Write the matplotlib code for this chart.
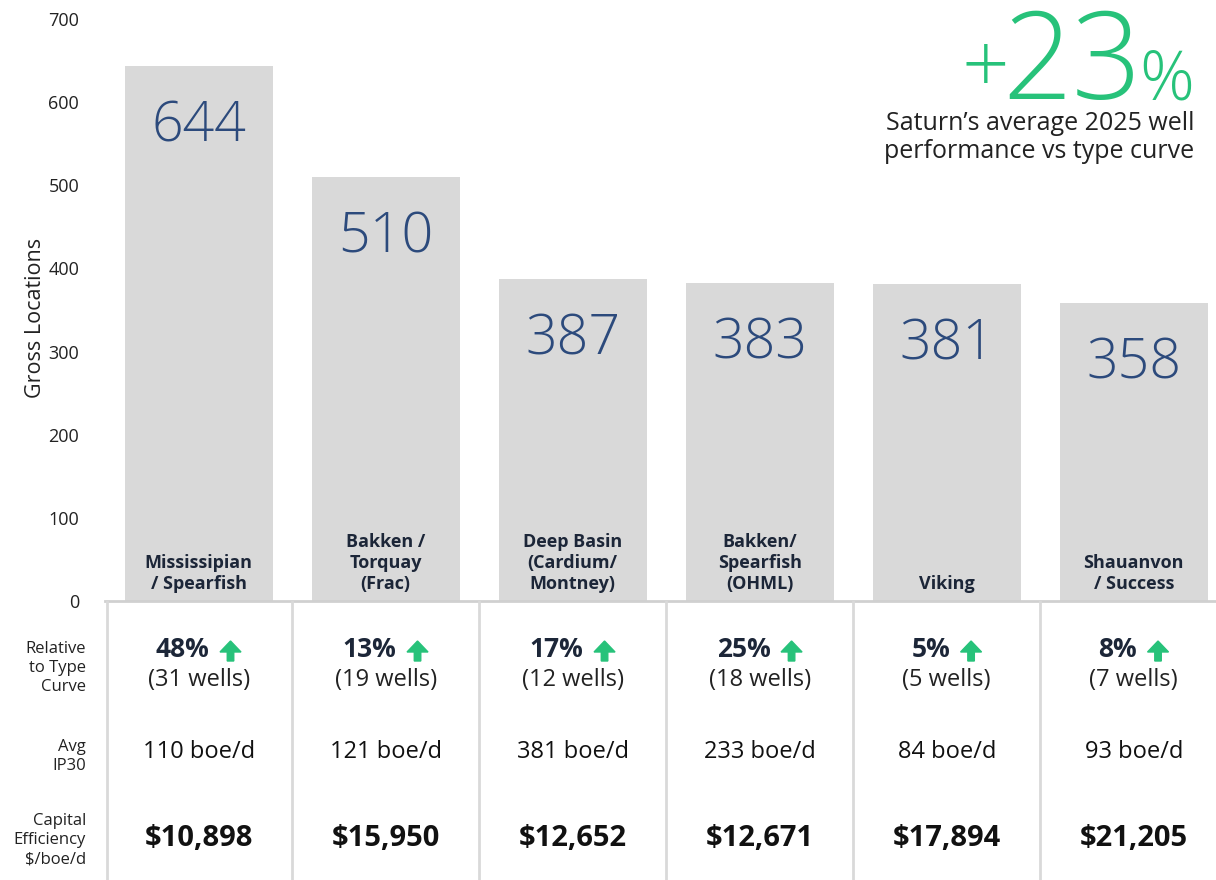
import matplotlib.pyplot as plt
import matplotlib.transforms as mtransforms
from matplotlib.patches import FancyArrow

plt.rcParams['font.family'] = ['Open Sans', 'DejaVu Sans']

# data
categories = ['Mississipian\n/ Spearfish', 'Bakken /\nTorquay\n(Frac)', 'Deep Basin\n(Cardium/\nMontney)',
              'Bakken/\nSpearfish\n(OHML)', 'Viking', 'Shauanvon\n/ Success']
locations = [644, 510, 387, 383, 381, 358]
rel_pct = [48, 13, 17, 25, 5, 8]
wells = [31, 19, 12, 18, 5, 7]
ip30 = [110, 121, 381, 233, 84, 93]
cap_eff = [10898, 15950, 12652, 12671, 17894, 21205]
yticks = [0, 100, 200, 300, 400, 500, 600, 700]

navy = '#1c2638'
blue = '#2c4a7c'
green = '#27c27a'
grey = '#d9d9d9'
W, H = 1216, 880

fig = plt.figure(figsize=(12.16, 8.8), dpi=100)
ax = fig.add_axes([107 / W, 1 - 601 / H, 1 - 107 / W, (601 - 19) / H])
x = list(range(len(categories)))
ax.bar(x, locations, width=0.79, color=grey, zorder=1)
ax.set_xlim(-0.49, 5.44)
ax.set_ylim(0, 700)
ax.set_yticks(yticks)
ax.tick_params(axis='y', length=0, pad=20, labelsize=13, labelcolor='#222222')
ax.set_xticks([])
for s in ax.spines.values():
    s.set_visible(False)
ax.set_ylabel('Gross Locations', fontsize=15.5, color='#222222')
ax.yaxis.set_label_coords(-(107 - 46) / (W - 107), (601 - 318) / 582)

for i, v in enumerate(locations):
    ax.annotate(str(v), (i, v), xytext=(0, -44), textcoords='offset points',
                ha='center', va='center', fontsize=40, color=blue, fontweight='light')
    ax.text(i, 10, categories[i], ha='center', va='bottom', fontsize=13, fontweight='bold',
            color=navy, linespacing=1.2)

# table below the bars
tr = mtransforms.blended_transform_factory(ax.transData, fig.transFigure)
fig.add_artist(plt.Line2D([105 / W, 1], [1 - 601 / H] * 2, color='#d0d0d0', lw=2))
for d in [-0.49, 0.5, 1.5, 2.5, 3.5, 4.5]:
    fig.add_artist(plt.Line2D([d, d], [0, 1 - 602 / H], color=grey, lw=2, transform=tr))

fig.canvas.draw()
r = fig.canvas.get_renderer()
for i in x:
    t = fig.text(i, 1 - 649 / H, f'{rel_pct[i]}%', ha='center', va='center', fontsize=19,
                 fontweight='bold', color=navy, transform=tr)
    tw = t.get_window_extent(r).width
    aw, gap = 22, 10
    px_c = ax.transData.transform((i, 0))[0]
    t.set_x(ax.transData.inverted().transform((px_c - (gap + aw) / 2, 0))[0])
    ac = px_c - (gap + aw) / 2 + tw / 2 + gap + aw / 2
    fig.add_artist(FancyArrow(ac / 100, (H - 661) / 100, 0, 0.2, width=0.065, head_width=0.21,
                              head_length=0.11, length_includes_head=True, color=green,
                              transform=fig.dpi_scale_trans))
    fig.text(i, 1 - 680 / H, f'({wells[i]} wells)', ha='center', va='center', fontsize=17,
             color='#222222', transform=tr)
    fig.text(i, 1 - 752 / H, f'{ip30[i]} boe/d', ha='center', va='center', fontsize=17,
             color='#111111', transform=tr)
    fig.text(i, 1 - 838 / H, f'${cap_eff[i]:,}', ha='center', va='center', fontsize=21,
             fontweight='bold', color='#111111', transform=tr)

lab = dict(ha='right', va='center', fontsize=12, color='#222222', linespacing=1.25)
fig.text(86 / W, 1 - 668 / H, 'Relative\nto Type\nCurve', **lab)
fig.text(86 / W, 1 - 756 / H, 'Avg\nIP30', **lab)
fig.text(86 / W, 1 - 840 / H, 'Capital\nEfficiency\n$/boe/d', **lab)

# +23% callout
base = 1 - 99 / H
pc = fig.text(1194 / W, base, '%', ha='right', va='baseline', fontsize=49, color=green, fontweight='light')
pw = pc.get_window_extent(r).width
num = fig.text((1194 - pw + 3) / W, base, '23', ha='right', va='baseline', fontsize=88,
               color=green, fontweight='light')
nw = num.get_window_extent(r).width
fig.text((1194 - pw + 3 - nw + 7) / W, 1 - 93 / H, '+', ha='right', va='baseline', fontsize=60,
         color=green, fontweight='light')
fig.text(1194 / W, 1 - 124 / H, 'Saturn\u2019s average 2025 well', ha='right', va='center',
         fontsize=18, color='#222222')
fig.text(1194 / W, 1 - 152 / H, 'performance vs type curve', ha='right', va='center',
         fontsize=18, color='#222222')

fig.savefig('out.png', dpi=100)
